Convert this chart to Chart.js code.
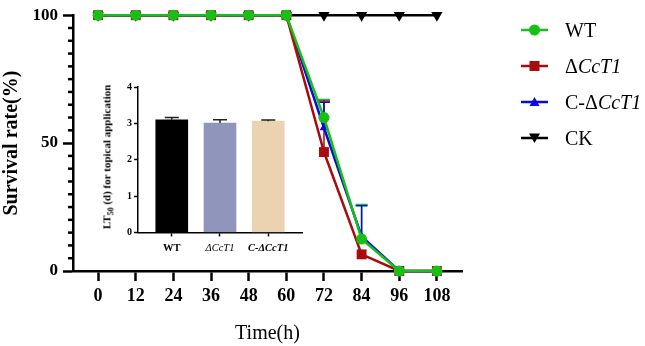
<!DOCTYPE html>
<html><head><meta charset="utf-8">
<script src="https://cdn.jsdelivr.net/npm/chart.js@4/dist/chart.umd.min.js"></script>
<style>
html,body{margin:0;padding:0;background:#fff;}
#wrap{position:relative;width:645px;height:346px;overflow:hidden;background:#fff;font-family:"Liberation Serif","DejaVu Serif",serif;}
#main{position:absolute;left:0;top:0;}
#inset{position:absolute;left:95px;top:75px;}
#insetTitle{position:absolute;left:108px;top:157px;transform:translate(-50%,-50%) rotate(-90deg);white-space:nowrap;font-family:"Liberation Serif","DejaVu Serif",serif;font-weight:bold;font-size:11px;color:#000;}
#legend{position:absolute;left:521px;top:0;width:124px;height:160px;}
.item{position:absolute;left:0;height:24px;display:flex;align-items:center;white-space:nowrap;font-family:"Liberation Serif","DejaVu Serif",serif;font-size:20px;font-weight:normal;color:#000;}
.item svg{margin-right:17px;flex:none;}
</style>
</head><body>
<div id="wrap">
<canvas id="main" width="645" height="346"></canvas>
<canvas id="inset" width="215" height="190"></canvas>
<div id="insetTitle">LT<sub style="font-size:8px">50</sub> (d) for topical application</div>
<div id="legend"></div>
</div>
<script>
// ---------- data ----------
const hours = [0, 12, 24, 36, 48, 60, 72, 84, 96, 108];
const wtSurvival   = [100, 100, 100, 100, 100, 100, 60, 12.5, 0, 0];
const wtErr        = [0, 0, 0, 0, 0, 0, 7, 13.5, 0, 0];
const delSurvival  = [100, 100, 100, 100, 100, 100, 46.5, 6.5, 0, 0];
const delErr       = [0, 0, 0, 0, 0, 0, 20, 0, 0, 0];
const compSurvival = [100, 100, 100, 100, 100, 100, 56, 13.5, 0, 0];
const compErr      = [0, 0, 0, 0, 0, 0, 10, 12, 0, 0];
const ckSurvival   = [100, 100, 100, 100, 100, 100, 100, 100, 100, 100];
const yMajorTicks  = [0, 50, 100];

const insetGroups = ['WT', 'ΔCcT1', 'C-ΔCcT1'];
const insetLT50   = [3.10, 3.01, 3.06];
const insetErr    = [0.06, 0.09, 0.03];
const insetTicks  = [0, 1, 2, 3, 4];

// ---------- styles ----------
const GREEN = '#16C016', RED = '#A80C0C', BLUE = '#0A0AE0', BLACK = '#000000';
const SERIF = "'Liberation Serif','DejaVu Serif',serif";

const toPts = arr => arr.map((v, i) => ({x: hours[i], y: v}));

const errorBarPlugin = {
  id: 'errBars',
  beforeDatasetsDraw(chart) {
    const {ctx, scales: {x, y}} = chart;
    ctx.save();
    chart.data.datasets.forEach(ds => {
      if (!ds.err) return;
      ds.err.forEach((e, i) => {
        if (!e) return;
        const px = x.getPixelForValue(hours[i]);
        const y0 = y.getPixelForValue(ds.data[i].y);
        const y1 = y.getPixelForValue(ds.data[i].y + e);
        ctx.strokeStyle = ds.borderColor;
        ctx.lineWidth = 1.5;
        ctx.beginPath();
        ctx.moveTo(px, y0); ctx.lineTo(px, y1);
        ctx.moveTo(px - 6, y1); ctx.lineTo(px + 6, y1);
        ctx.stroke();
      });
    });
    ctx.restore();
  }
};

const minorTickPlugin = {
  id: 'minorTicks',
  afterDraw(chart) {
    const {ctx, scales: {y}, chartArea} = chart;
    ctx.save();
    ctx.strokeStyle = '#000';
    ctx.lineWidth = 2.5;
    for (let v = 5; v < 100; v += 5) {
      if (v === 50) continue;
      const py = y.getPixelForValue(v);
      ctx.beginPath();
      ctx.moveTo(chartArea.left, py);
      ctx.lineTo(chartArea.left - 5, py);
      ctx.stroke();
    }
    ctx.restore();
  }
};

const mkDs = (label, data, err, color, style, radius, rot) => ({
  label, data: toPts(data), err,
  borderColor: color, backgroundColor: color,
  pointBackgroundColor: color, pointBorderColor: color,
  pointStyle: style, pointRadius: radius, pointHoverRadius: radius,
  pointRotation: rot || 0, pointBorderWidth: 0,
  borderWidth: 2.5, tension: 0, fill: false, clip: false
});

new Chart(document.getElementById('main'), {
  type: 'line',
  data: {
    datasets: [
      mkDs('WT', wtSurvival, wtErr, GREEN, 'circle', 5.5),
      mkDs('ΔCcT1', delSurvival, delErr, RED, 'rect', 7),
      mkDs('C-ΔCcT1', compSurvival, compErr, BLUE, 'triangle', 5),
      mkDs('CK', ckSurvival, null, BLACK, 'triangle', 6.5, 180)
    ]
  },
  options: {
    responsive: false, animation: false, devicePixelRatio: 1,
    layout: {padding: {left: 0, top: 13, right: 183, bottom: 0}},
    plugins: {legend: {display: false}, tooltip: {enabled: false}},
    scales: {
      x: {
        type: 'linear', min: -8, max: 116,
        afterBuildTicks: s => { s.ticks = hours.map(v => ({value: v})); },
        afterFit: s => { s.height = 75; },
        border: {display: true, color: '#000', width: 2.5},
        grid: {drawOnChartArea: false, drawTicks: true, tickLength: 10, tickColor: '#000', tickWidth: 2.5},
        ticks: {color: '#000', padding: 5, maxRotation: 0, font: {family: SERIF, size: 18, weight: 'bold'}},
        title: {display: true, text: 'Time(h)', color: '#000', padding: {top: 0, bottom: 0},
                font: {family: SERIF, size: 20, weight: 'normal'}}
      },
      y: {
        type: 'linear', min: 0, max: 100,
        afterBuildTicks: s => { s.ticks = yMajorTicks.map(v => ({value: v})); },
        afterFit: s => { s.width = 73; },
        border: {display: true, color: '#000', width: 2.5},
        grid: {drawOnChartArea: false, drawTicks: true, tickLength: 10, tickColor: '#000', tickWidth: 2.5},
        ticks: {color: '#000', padding: 5, font: {family: SERIF, size: 17, weight: 'bold'}},
        title: {display: true, text: 'Survival rate(%)', color: '#000', padding: {top: 0, bottom: 0},
                font: {family: SERIF, size: 20, weight: 'bold'}}
      }
    }
  },
  plugins: [errorBarPlugin, minorTickPlugin]
});

// ---------- inset ----------
const insetErrPlugin = {
  id: 'insetErr',
  afterDatasetsDraw(chart) {
    const {ctx, scales: {x, y}} = chart;
    ctx.save();
    ctx.strokeStyle = '#222';
    ctx.lineWidth = 1.5;
    insetLT50.forEach((v, i) => {
      const px = x.getPixelForValue(i);
      const y0 = y.getPixelForValue(v);
      const y1 = y.getPixelForValue(v + insetErr[i]);
      ctx.beginPath();
      ctx.moveTo(px, y0); ctx.lineTo(px, y1);
      ctx.moveTo(px - 7, y1); ctx.lineTo(px + 7, y1);
      ctx.stroke();
    });
    ctx.restore();
  }
};

new Chart(document.getElementById('inset'), {
  type: 'bar',
  data: {
    datasets: [{
      data: insetLT50.map((v, i) => ({x: i, y: v})),
      backgroundColor: ['#000000', '#9095BB', '#EBD2B0'],
      barThickness: 32, borderWidth: 0
    }]
  },
  options: {
    responsive: false, animation: false, devicePixelRatio: 1,
    layout: {padding: {left: 0, top: 12, right: 8, bottom: 0}},
    plugins: {legend: {display: false}, tooltip: {enabled: false}},
    scales: {
      x: {
        type: 'linear', min: -0.7, max: 2.7, offset: false,
        afterBuildTicks: s => { s.ticks = insetGroups.map((g, i) => ({value: i})); },
        afterFit: s => { s.height = 32.5; },
        border: {display: true, color: '#000', width: 1.5},
        grid: {drawOnChartArea: false, drawTicks: true, tickLength: 4, tickColor: '#000', tickWidth: 1.5, offset: false},
        ticks: {color: '#000', padding: 5, maxRotation: 0, autoSkip: false,
                callback: v => insetGroups[v],
                font: c => ({family: SERIF, size: 10.5,
                  weight: c.index === 1 ? 'normal' : 'bold',
                  style: c.index === 0 ? 'normal' : 'italic'})}
      },
      y: {
        type: 'linear', min: 0, max: 4,
        afterBuildTicks: s => { s.ticks = insetTicks.map(v => ({value: v})); },
        afterFit: s => { s.width = 43; },
        border: {display: true, color: '#000', width: 1.5},
        grid: {drawOnChartArea: false, drawTicks: true, tickLength: 4, tickColor: '#000', tickWidth: 1.5},
        ticks: {color: '#000', padding: 2, font: {family: SERIF, size: 10, weight: 'bold'}}
      }
    }
  },
  plugins: [insetErrPlugin]
});

// ---------- legend ----------
const legendItems = [
  {html: 'WT', color: GREEN, shape: 'circle'},
  {html: 'Δ<i>CcT1</i>', color: RED, shape: 'rect'},
  {html: 'C-Δ<i>CcT1</i>', color: BLUE, shape: 'tri'},
  {html: 'CK', color: BLACK, shape: 'tridown'}
];
const legendCenters = [30, 66, 102, 138];
const legend = document.getElementById('legend');
legendItems.forEach((it, i) => {
  let mark = '';
  if (it.shape === 'circle') mark = `<circle cx="13.5" cy="7" r="5.5" fill="${it.color}"/>`;
  if (it.shape === 'rect') mark = `<rect x="8.5" y="2" width="10" height="10" fill="${it.color}"/>`;
  if (it.shape === 'tri') mark = `<polygon points="13.5,2 18.5,11 8.5,11" fill="${it.color}"/>`;
  if (it.shape === 'tridown') mark = `<polygon points="8,2.5 19,2.5 13.5,12" fill="${it.color}"/>`;
  const d = document.createElement('div');
  d.className = 'item';
  d.style.top = (legendCenters[i] - 12) + 'px';
  d.innerHTML = `<svg width="27" height="14"><line x1="0" y1="7" x2="27" y2="7" stroke="${it.color}" stroke-width="2.5"/>${mark}</svg><span>${it.html}</span>`;
  legend.appendChild(d);
});
</script>
</body></html>
